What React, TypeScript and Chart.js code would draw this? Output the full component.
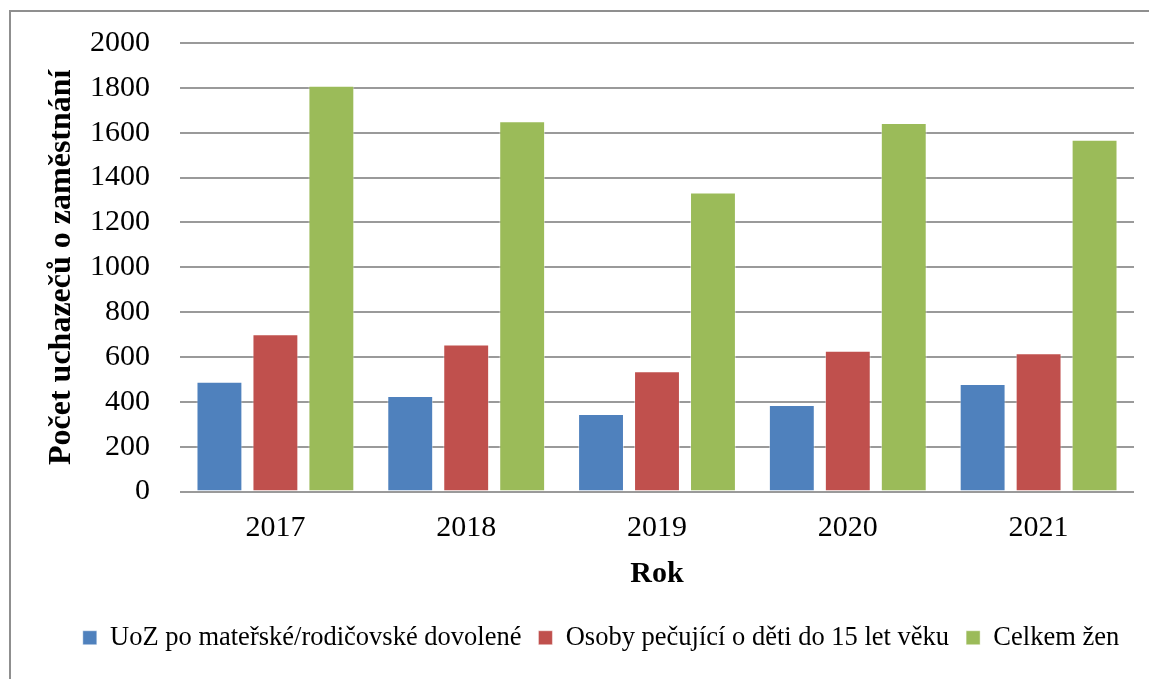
import React, { useEffect, useRef } from "react";
import { Chart, registerables } from "chart.js";

Chart.register(...registerables);

const categories = ["2017", "2018", "2019", "2020", "2021"];
const uozValues = [489, 426, 346, 386, 479];
const osobyValues = [701, 656, 536, 628, 616];
const celkemValues = [1809, 1651, 1333, 1643, 1569];
const seriesLabels = [
  "UoZ po mateřské/rodičovské dovolené",
  "Osoby pečující o děti do 15 let věku",
  "Celkem žen",
];
const yTitle = "Počet uchazečů o zaměstnání";
const xTitle = "Rok";

const SERIF = "'Liberation Serif', 'Times New Roman', serif";

const legendShift = {
  id: "legendShift",
  afterLayout(chart: any) {
    const lg = chart.legend;
    if (lg) {
      lg.left += 34;
      lg.right += 34;
    }
  },
};

export default function App() {
  const canvasRef = useRef<HTMLCanvasElement | null>(null);

  useEffect(() => {
    const canvas = canvasRef.current;
    if (!canvas) return;
    const chart = new Chart(canvas, {
      type: "bar",
      data: {
        labels: categories,
        datasets: [
          {
            label: seriesLabels[0],
            data: uozValues,
            backgroundColor: "#4F81BD",
            borderColor: "rgba(255,255,255,0.45)",
            borderWidth: 1,
          },
          {
            label: seriesLabels[1],
            data: osobyValues,
            backgroundColor: "#C0504D",
            borderColor: "rgba(255,255,255,0.45)",
            borderWidth: 1,
          },
          {
            label: seriesLabels[2],
            data: celkemValues,
            backgroundColor: "#9BBB59",
            borderColor: "rgba(255,255,255,0.45)",
            borderWidth: 1,
          },
        ],
      },
      plugins: [legendShift],
      options: {
        responsive: false,
        animation: false,
        devicePixelRatio: 1,
        layout: { padding: { left: 0, right: 15, top: 43, bottom: 18 } },
        datasets: {
          bar: { categoryPercentage: 0.88, barPercentage: 0.82 },
        },
        plugins: {
          tooltip: { enabled: false },
          legend: {
            position: "bottom",
            labels: {
              boxWidth: 14,
              boxHeight: 14,
              padding: 17,
              color: "#000",
              font: { family: SERIF, size: 26.5 },
            },
          },
        },
        scales: {
          x: {
            grid: { display: false, drawTicks: false },
            border: { display: false },
            ticks: {
              color: "#000",
              font: { family: SERIF, size: 30 },
              padding: 19,
            },
            title: {
              display: true,
              text: xTitle,
              color: "#000",
              font: { family: SERIF, size: 30, weight: "bold" },
              padding: { top: 0, bottom: 15 },
            },
            afterFit: (scale: any) => {
              scale.height = 116;
            },
          },
          y: {
            min: 0,
            max: 2000,
            grid: { color: "#9a9a9a", lineWidth: 2, drawTicks: false },
            border: { display: false },
            ticks: {
              stepSize: 200,
              color: "#000",
              font: { family: SERIF, size: 30 },
              padding: 30,
              callback: (v: any) => String(v),
            },
            title: {
              display: true,
              text: yTitle,
              color: "#000",
              font: { family: SERIF, size: 32, weight: "bold" },
              padding: { top: 43, bottom: 0 },
            },
            afterFit: (scale: any) => {
              scale.width = 180;
              scale.paddingTop = 0;
              scale.paddingBottom = 0;
            },
          },
        },
      },
    });
    return () => chart.destroy();
  }, []);

  return (
    <div
      style={{
        position: "fixed",
        left: 0,
        top: 0,
        width: 1149,
        height: 679,
        background: "#fff",
        overflow: "hidden",
      }}
    >
      <div
        style={{
          position: "absolute",
          left: 9,
          top: 10,
          width: 1200,
          height: 720,
          borderLeft: "2px solid #8f8f8f",
          borderTop: "2px solid #8f8f8f",
        }}
      />
      <canvas
        ref={canvasRef}
        width={1149}
        height={679}
        style={{ position: "absolute", left: 0, top: 0 }}
      />
    </div>
  );
}
